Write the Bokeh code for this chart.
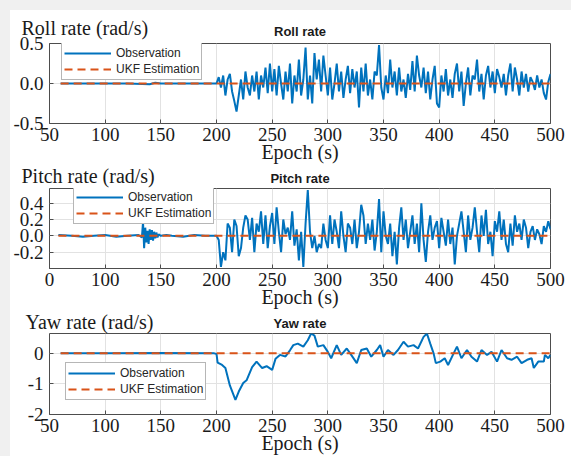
import numpy as np
from bokeh.plotting import figure
from bokeh.layouts import column, row
from bokeh.models import Range1d, FixedTicker, Legend, LegendItem, Spacer, Title
from bokeh.embed import file_html
from bokeh.resources import INLINE

# ---------------- data ----------------
x_ticks = [50, 100, 150, 200, 250, 300, 350, 400, 450, 500]

# Roll rate (rad/s)
roll_pre_t = [60, 80, 100, 120, 140, 145, 150, 160, 180, 198]
roll_pre_v = [0.0, 0.0, 0.0, 0.0, -0.01, 0.01, 0.0, 0.0, 0.0, 0.0]
roll_obs = [
    0.00, 0.08, -0.05, 0.10, -0.15, 0.05, 0.12, -0.10, -0.22, -0.35,
    -0.15, 0.05, -0.20, 0.15, -0.05, -0.15, 0.10, -0.10, 0.15, -0.20,
    0.10, -0.05, 0.20, -0.12, 0.25, -0.10, 0.18, -0.15, 0.22, 0.00,
    -0.20, 0.15, -0.10, 0.25, -0.25, 0.10, -0.10, 0.30, -0.15, 0.05,
    0.45, -0.20, 0.10, -0.25, 0.38, 0.05, 0.30, -0.10, 0.35, 0.10,
    -0.15, 0.20, -0.20, 0.00, 0.25, -0.10, 0.15, -0.18, 0.05, 0.22,
    -0.12, 0.18, -0.05, 0.15, -0.30, 0.20, -0.10, 0.25, -0.15, 0.05,
    -0.20, 0.15, 0.10, 0.48, -0.05, -0.20, 0.10, -0.12, 0.30, -0.05,
    0.15, -0.15, 0.20, -0.10, 0.05, -0.18, 0.12, -0.08, 0.28, -0.10,
    0.35, 0.10, -0.05, 0.20, -0.12, 0.15, -0.20, 0.05, 0.22, -0.25,
    -0.30, 0.10, -0.10, 0.18, -0.15, 0.05, -0.18, 0.12, 0.25, -0.10,
    0.15, -0.28, 0.00, 0.20, -0.15, 0.10, 0.05, 0.30, -0.10, 0.12,
    -0.20, 0.10, 0.22, -0.05, 0.15, -0.12, 0.18, 0.08, -0.05, 0.12,
    -0.15, 0.10, 0.25, -0.10, 0.20, 0.05, -0.15, 0.15, -0.05, 0.12,
    -0.10, 0.08, 0.02, -0.08, 0.10, -0.05, 0.05, -0.12, -0.20, 0.02,
    0.12,
]
roll_ukf_t = [60, 500]
roll_ukf_v = [0.0, 0.0]

# Pitch rate (rad/s)
pitch_pre_t = [58, 70, 80, 90, 100, 110, 120, 130, 133, 134, 135, 136, 137, 138,
               139, 140, 141, 142, 143, 144, 145, 146, 147, 148, 150, 155, 160,
               170, 180, 190, 199]
pitch_pre_v = [0.01, 0.0, -0.01, 0.0, 0.01, -0.01, 0.0, 0.01, -0.02, 0.17, -0.15,
               0.10, -0.08, 0.06, -0.10, 0.08, -0.05, 0.07, -0.06, 0.05, -0.03,
               0.04, -0.02, 0.02, 0.0, 0.01, 0.0, -0.01, 0.01, 0.0, 0.0]
pitch_obs = [
    0.00, -0.05, -0.38, -0.20, -0.30, 0.15, 0.10, -0.20, 0.20, 0.12,
    -0.25, -0.15, 0.10, 0.25, 0.20, -0.05, 0.22, -0.20, 0.15, 0.05,
    0.30, -0.10, 0.25, -0.15, 0.12, 0.28, -0.10, 0.35, 0.05, -0.20,
    0.20, 0.02, 0.10, -0.05, 0.30, -0.12, 0.08, -0.30, 0.05, -0.38,
    0.15, 0.56, 0.05, -0.15, 0.00, -0.20, -0.10, -0.15, 0.15, -0.05,
    -0.15, 0.25, -0.10, 0.20, 0.05, -0.15, 0.30, 0.00, -0.20, 0.15,
    0.10, -0.10, 0.20, -0.15, 0.05, 0.38, 0.25, -0.10, 0.15, -0.05,
    0.20, -0.18, 0.05, 0.45, -0.20, 0.30, 0.00, -0.10, 0.15, -0.25,
    0.05, -0.35, 0.10, 0.35, -0.05, 0.20, -0.15, 0.05, 0.25, -0.10,
    0.15, -0.20, 0.40, -0.05, -0.32, 0.05, 0.25, -0.05, 0.10, 0.18,
    -0.15, 0.22, 0.05, -0.12, 0.20, -0.10, 0.10, -0.35, 0.00, 0.15,
    0.30, 0.05, -0.20, 0.25, -0.05, 0.10, 0.35, 0.05, -0.20, 0.25,
    0.00, 0.32, -0.10, 0.05, -0.25, 0.18, 0.05, 0.30, -0.05, 0.20,
    -0.10, -0.20, 0.15, -0.12, 0.25, 0.05, 0.15, -0.05, 0.20, 0.10,
    -0.15, 0.05, 0.12, -0.05, 0.08, 0.02, -0.10, 0.12, 0.05, 0.18,
    0.08,
]
pitch_ukf_t = [58, 500]
pitch_ukf_v = [0.0, 0.0]

# Yaw rate (rad/s)
yaw_t = [60, 100, 150, 198, 200, 201, 205, 208, 212, 217, 220, 224, 227, 232, 236,
         241, 245, 250, 253, 257, 262, 266, 269, 273, 278, 282, 285, 288, 291, 296,
         300, 303, 308, 312, 317, 321, 326, 330, 335, 339, 344, 347, 350, 354, 359,
         363, 368, 372, 377, 381, 386, 389, 392, 395, 397, 401, 405, 408, 413, 416,
         420, 425, 429, 434, 438, 443, 447, 452, 456, 461, 465, 470, 474, 479, 483,
         485, 489, 494, 495, 498, 500]
yaw_obs = [0.0, 0.0, 0.01, 0.0, -0.02, -0.30, -0.38, -0.48, -1.05, -1.52, -1.25,
           -0.97, -0.88, -0.45, -0.27, -0.48, -0.42, -0.54, -0.18, -0.05, -0.10,
           0.10, 0.27, 0.32, 0.22, 0.43, 0.65, 0.58, 0.22, 0.27, 0.05, -0.16, 0.27,
           -0.05, 0.16, -0.05, -0.32, 0.11, 0.16, -0.11, 0.11, 0.27, -0.11, 0.11,
           -0.05, 0.11, 0.38, 0.22, 0.27, 0.16, 0.54, 0.65, 0.32, 0.0, -0.32, -0.27,
           -0.16, -0.38, 0.0, 0.22, -0.16, 0.11, -0.11, -0.27, 0.11, -0.05, 0.05,
           -0.27, 0.11, -0.16, -0.21, -0.11, -0.32, -0.21, -0.16, -0.48, -0.27,
           -0.27, -0.05, -0.16, -0.05]
yaw_ukf_t = [60, 500]
yaw_ukf_v = [0.0, 0.0]

BLUE = "#0072BD"
ORANGE = "#D95319"
SERIF = "Liberation Serif"
SANS = "Liberation Sans"
DARK = "#4d4d4d"
TXT = "#1a1a1a"
GRAY_BG = "#f0f0f0"
FIG_W = 561


def make_panel(title, title_standoff, ylabel, ylabel_dx, ylabel_standoff, t_obs,
               v_obs, t_ukf, v_ukf, yr, yticks, ylabels, height, btop, bbot, leg_xy,
               xover=None):
    p = figure(width=FIG_W, height=height, x_range=Range1d(50, 500),
               y_range=Range1d(*yr), output_backend="svg", toolbar_location=None,
               min_border_left=39, min_border_right=21, min_border_top=btop,
               min_border_bottom=bbot, background_fill_color="white",
               border_fill_color="white", outline_line_color=DARK,
               outline_line_width=1)

    # bold centred panel title, then the horizontal y label further out
    p.add_layout(Title(text=title, align="center", text_font=SANS,
                       text_font_size="13px", text_font_style="bold",
                       text_color=TXT, standoff=title_standoff), "above")
    p.add_layout(Title(text=ylabel, align="left", offset=ylabel_dx,
                       text_font=SERIF, text_font_size="20px",
                       text_font_style="normal", text_color=TXT,
                       standoff=ylabel_standoff), "above")

    # grids
    p.xgrid.ticker = FixedTicker(ticks=x_ticks)
    p.ygrid.ticker = FixedTicker(ticks=yticks)
    for g in (p.xgrid[0], p.ygrid[0]):
        g.grid_line_color = "#e2e2e2"
        g.grid_line_width = 1

    # bottom axis
    ax = p.xaxis[0]
    ax.ticker = FixedTicker(ticks=x_ticks)
    ax.major_label_overrides = xover or {}
    ax.major_label_text_font = SERIF
    ax.major_label_text_font_size = "19px"
    ax.major_label_text_color = TXT
    ax.major_label_standoff = 4
    ax.major_tick_in = 4
    ax.major_tick_out = 0
    ax.minor_tick_in = 0
    ax.minor_tick_out = 0
    ax.major_tick_line_color = DARK
    ax.axis_line_color = None
    ax.axis_label = "Epoch (s)"
    ax.axis_label_text_font = SERIF
    ax.axis_label_text_font_size = "20px"
    ax.axis_label_text_font_style = "normal"
    ax.axis_label_text_color = TXT
    ax.axis_label_standoff = -3

    # left axis
    ay = p.yaxis[0]
    ay.ticker = FixedTicker(ticks=yticks)
    ay.major_label_overrides = {k: v for k, v in zip(yticks, ylabels)}
    ay.major_label_text_font = SERIF
    ay.major_label_text_font_size = "19px"
    ay.major_label_text_color = TXT
    ay.major_label_standoff = 6
    ay.major_tick_in = 4
    ay.major_tick_out = 0
    ay.minor_tick_in = 0
    ay.minor_tick_out = 0
    ay.major_tick_line_color = DARK
    ay.axis_line_color = None

    r1 = p.line(t_obs, v_obs, line_color=BLUE, line_width=2)
    r2 = p.line(t_ukf, v_ukf, line_color=ORANGE, line_width=2, line_dash="8 5")

    leg = Legend(items=[LegendItem(label="Observation", renderers=[r1]),
                        LegendItem(label="UKF Estimation", renderers=[r2])],
                 location=leg_xy, padding=2, spacing=0, margin=0,
                 label_height=16, glyph_height=16, glyph_width=47, label_standoff=5,
                 label_text_font=SANS, label_text_font_size="12px",
                 label_text_color="#262626", border_line_color="#6e6e6e",
                 border_line_width=1, background_fill_color="white",
                 background_fill_alpha=1.0)
    p.add_layout(leg)
    return p


roll_t = roll_pre_t + list(200 + 2 * np.arange(len(roll_obs)))
roll_v = roll_pre_v + roll_obs
pitch_t = pitch_pre_t + list(200 + 2 * np.arange(len(pitch_obs)))
pitch_v = pitch_pre_v + pitch_obs

p1 = make_panel("Roll rate", 10, "Roll rate (rad/s)", -28, -44, roll_t, roll_v,
                roll_ukf_t, roll_ukf_v, (-0.5, 0.5), [-0.5, 0.0, 0.5],
                ["-0.5", "0.0", "0.5"], 155, 33, 42, (12, 43))
p2 = make_panel("Pitch rate", 6, "Pitch rate (rad/s)", -28, -42, pitch_t, pitch_v,
                pitch_ukf_t, pitch_ukf_v, (-0.4, 0.58), [-0.4, -0.2, 0.0, 0.2, 0.4],
                ["", "-0.2", "0.0", "0.2", "0.4"], 145, 23, 41, (24, 44),
                xover={50: "0"})
p3 = make_panel("Yaw rate", 6, "Yaw rate (rad/s)", -24, -45, yaw_t, yaw_obs,
                yaw_ukf_t, yaw_ukf_v, (-2.0, 0.65), [-2, -1, 0], ["-2", "-1", "0"],
                146, 23, 41, (16, 14))

top_band = Spacer(width=571, height=10, styles={"background-color": GRAY_BG})
left_band = Spacer(width=10, height=446, styles={"background-color": GRAY_BG})
stack = column(p1, p2, p3, spacing=0)
layout = column(top_band, row(left_band, stack, spacing=0), spacing=0)
open("out.html", "w").write(file_html(layout, INLINE))
